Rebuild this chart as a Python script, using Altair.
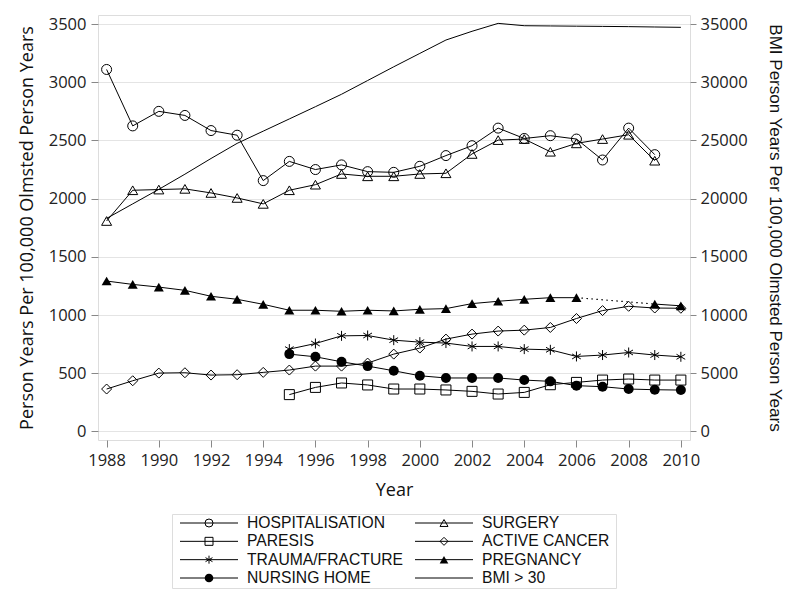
import altair as alt
import pandas as pd

# ---------------- data ----------------
series_names = ["HOSPITALISATION", "SURGERY", "PARESIS", "ACTIVE CANCER",
                "TRAUMA/FRACTURE", "PREGNANCY", "NURSING HOME", "BMI > 30"]
series_shapes = ["circle", "triangle-up", "square", "diamond",
                 "M0,-1L0,1M-0.87,-0.5L0.87,0.5M-0.87,0.5L0.87,-0.5",
                 "triangle-up", "circle", "circle"]
series_sizes = [100, 100, 75, 110, 90, 100, 85, 0]
filled_series = ["PREGNANCY", "NURSING HOME"]

years_all = list(range(1988, 2011))
years_to_2009 = list(range(1988, 2010))
years_late = list(range(1995, 2011))
years_preg = list(range(1988, 2007)) + [2009, 2010]

hosp = [3110, 2625, 2750, 2715, 2585, 2545, 2155, 2320, 2250, 2290, 2232,
        2226, 2278, 2370, 2455, 2606, 2517, 2541, 2512, 2332, 2606, 2378]
surgery = [1808, 2072, 2078, 2084, 2049, 2006, 1955, 2072, 2120, 2212, 2192,
           2192, 2212, 2218, 2384, 2503, 2512, 2403, 2475, 2512, 2549, 2326]
paresis = [316, 378, 416, 399, 364, 364, 356, 344, 321, 335, 401, 421, 441,
           450, 441, 441]
cancer = [364, 435, 501, 504, 484, 487, 507, 527, 561, 561, 587, 664, 716,
          793, 836, 862, 870, 893, 970, 1038, 1075, 1060, 1058]
trauma = [707, 755, 821, 824, 784, 767, 759, 730, 730, 707, 701, 644, 656,
          678, 656, 641]
pregnancy = [1292, 1263, 1240, 1212, 1161, 1135, 1092, 1041, 1041, 1032, 1041,
             1035, 1049, 1055, 1098, 1118, 1135, 1149, 1149, 1094, 1079]
nursing = [664, 641, 598, 561, 521, 478, 459, 459, 459, 441, 430, 393, 384,
           364, 358, 355]
bmi = [18300, 19550, 20800, 22100, 23450, 24750, 25800, 26850, 27900, 28970,
       30150, 31330, 32480, 33630, 34380, 35060, 34860, 34840, 34820, 34800,
       34780, 34750, 34720]

x_ticks = list(range(1988, 2011, 2))
y_left_ticks = list(range(0, 3501, 500))
y_right_ticks = list(range(0, 35001, 5000))

# ---------------- tables ----------------
rows = []
def add(name, yrs, vals):
    for yr, v in zip(yrs, vals):
        seg = name
        if name == "PREGNANCY" and yr >= 2009:
            seg = name + "_b"
        rows.append({"series": name, "seg": seg, "year": yr, "value": v})

add("HOSPITALISATION", years_to_2009, hosp)
add("SURGERY", years_to_2009, surgery)
add("PARESIS", years_late, paresis)
add("ACTIVE CANCER", years_all, cancer)
add("TRAUMA/FRACTURE", years_late, trauma)
add("PREGNANCY", years_preg, pregnancy)
add("NURSING HOME", years_late, nursing)
df = pd.DataFrame(rows)

df_bmi = pd.DataFrame({"year": years_all, "bmi": bmi})

legend_df = pd.DataFrame({
    "series": series_names,
    "col": [i % 2 for i in range(len(series_names))],
    "row": [i // 2 for i in range(len(series_names))],
})

shape_scale = alt.Scale(domain=series_names, range=series_shapes)
size_scale = alt.Scale(domain=series_names, range=series_sizes)

FONT_T = "Open Sans"
FONT_L = "Liberation Sans"

x_enc = alt.X("year:Q",
              scale=alt.Scale(domain=[1987.67, 2010.35], nice=False, zero=False),
              axis=alt.Axis(values=x_ticks, format="d", title="Year", grid=False,
                            labelFont=FONT_T, labelFontSize=16.5, titleFont=FONT_T,
                            titleFontSize=18, titleFontWeight="normal",
                            tickSize=7, labelPadding=5, titlePadding=13,
                            labelColor="#222", titleColor="#111",
                            tickColor="#888", domain=False))

y_left = alt.Y("value:Q",
               scale=alt.Scale(domain=[-74, 3578], nice=False, zero=False),
               axis=alt.Axis(values=y_left_ticks, format="d", grid=True, gridColor="#e4e4e4",
                             title="Person Years Per 100,000 Olmsted Person Years",
                             labelFont=FONT_T, labelFontSize=16.5, titleFont=FONT_T,
                             titleFontSize=18, titleFontWeight="normal",
                             tickSize=7, labelPadding=5, titlePadding=12,
                             labelColor="#222", titleColor="#111",
                             tickColor="#888", domain=False))

base = alt.Chart(df)

lines = base.mark_line(color="black", strokeWidth=1).encode(
    x=x_enc, y=y_left, detail="seg:N", order="year:Q")

dotted = base.transform_filter(
    (alt.datum.series == "PREGNANCY") & ((alt.datum.year == 2006) | (alt.datum.year == 2009))
).mark_line(color="black", strokeWidth=1.2, strokeDash=[1.5, 3.5]).encode(
    x=x_enc, y=y_left, order="year:Q")

hollow = base.transform_filter(
    ~alt.FieldOneOfPredicate(field="series", oneOf=filled_series)
).mark_point(filled=False, color="black", strokeWidth=1, opacity=1).encode(
    x=x_enc, y=y_left,
    shape=alt.Shape("series:N", scale=shape_scale, legend=None),
    size=alt.Size("series:N", scale=size_scale, legend=None))

solid = base.transform_filter(
    alt.FieldOneOfPredicate(field="series", oneOf=filled_series)
).mark_point(filled=True, color="black", opacity=1).encode(
    x=x_enc, y=y_left,
    shape=alt.Shape("series:N", scale=shape_scale, legend=None),
    size=alt.Size("series:N", scale=size_scale, legend=None))

bmi_line = alt.Chart(df_bmi).mark_line(color="black", strokeWidth=1).encode(
    x=x_enc,
    y=alt.Y("bmi:Q",
            scale=alt.Scale(domain=[-740, 35780], nice=False, zero=False),
            axis=alt.Axis(values=y_right_ticks, format="d", orient="right", grid=False,
                          title="BMI Person Years Per 100,000 Olmsted Person Years",
                          labelFont=FONT_T, labelFontSize=16.5, titleFont=FONT_L,
                          titleFontSize=17, titleFontWeight="normal",
                          tickSize=6, labelPadding=4, titlePadding=18,
                          labelColor="#222", titleColor="#111",
                          tickColor="#888", domain=False)))

top = alt.layer(alt.layer(lines, dotted, hollow, solid), bmi_line).resolve_scale(
    y="independent").properties(width=592, height=425)

# ---------------- legend ----------------
lx = alt.X("col:Q", scale=alt.Scale(domain=[0, 1], range=[37, 272]), axis=None)
ly = alt.Y("row:Q", scale=alt.Scale(domain=[0, 3], range=[9, 64]), axis=None)

lbase = alt.Chart(legend_df)
leg_rule = lbase.mark_rule(color="black", strokeWidth=1, xOffset=-29, x2Offset=29).encode(
    x=lx, x2="col:Q", y=ly)
leg_hollow = lbase.transform_filter(
    ~alt.FieldOneOfPredicate(field="series", oneOf=filled_series + ["BMI > 30"])
).mark_point(filled=False, color="black", strokeWidth=1, opacity=1, size=64).encode(
    x=lx, y=ly, shape=alt.Shape("series:N", scale=shape_scale, legend=None))
leg_solid = lbase.transform_filter(
    alt.FieldOneOfPredicate(field="series", oneOf=filled_series)
).mark_point(filled=True, color="black", opacity=1, size=75).encode(
    x=lx, y=ly, shape=alt.Shape("series:N", scale=shape_scale, legend=None))
leg_text = lbase.mark_text(align="left", baseline="middle", dx=38, font=FONT_L,
                           fontSize=15.7, color="#111").encode(
    x=lx, y=ly, text="series:N")

legend = alt.layer(leg_rule, leg_hollow, leg_solid, leg_text).properties(
    width=444, height=74)

chart = alt.vconcat(top, legend, spacing=74, center=True, bounds="flush").properties(
    padding={"left": 9, "top": 6, "right": 5, "bottom": 5}
).configure_view(stroke="#a8a8a8", strokeWidth=1).configure(background="white")

chart.save("out.html", embed_options={"renderer": "svg", "actions": False})
